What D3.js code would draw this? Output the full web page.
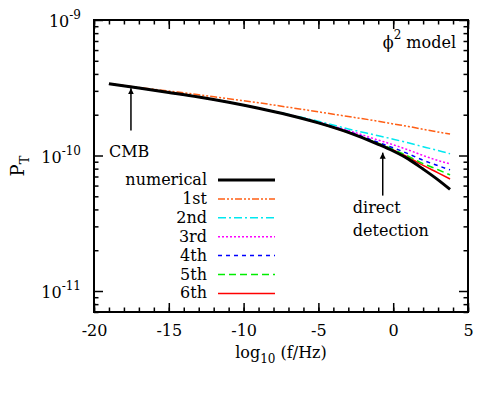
<!DOCTYPE html>
<html>
<head>
<meta charset="utf-8">
<script src="https://cdn.jsdelivr.net/npm/d3@7"></script>
<style>
	body { margin: 0; background: #fff; }
	svg { display: block; font-family: "DejaVu Serif", serif; }
	.axis path { display: none; }
	.axis line { stroke: #000; stroke-width: 1.5; }
	.axis text { font-size: 16px; fill: #000; font-family: "DejaVu Serif", serif; }
</style>
</head>
<body>
<svg width="498" height="393"></svg>
<script>
// log10(f/Hz)
const logF = [-19, -17, -15, -13, -11, -9, -7, -5, -3, -1, 0, 1, 2, 3, 3.8];

// P_T
const numerical = [3.39e-10, 3.15e-10, 2.92e-10, 2.70e-10, 2.47e-10, 2.23e-10, 1.99e-10, 1.74e-10, 1.48e-10, 1.21e-10, 1.08e-10, 9.44e-11, 7.94e-11, 6.61e-11, 5.62e-11];
const order1 = [3.39e-10, 3.18e-10, 2.99e-10, 2.81e-10, 2.62e-10, 2.45e-10, 2.27e-10, 2.10e-10, 1.94e-10, 1.79e-10, 1.71e-10, 1.64e-10, 1.56e-10, 1.49e-10, 1.44e-10];
const order2 = [3.39e-10, 3.15e-10, 2.92e-10, 2.70e-10, 2.47e-10, 2.24e-10, 2.01e-10, 1.79e-10, 1.57e-10, 1.40e-10, 1.32e-10, 1.24e-10, 1.16e-10, 1.09e-10, 1.03e-10];
const order3 = [3.39e-10, 3.15e-10, 2.92e-10, 2.70e-10, 2.47e-10, 2.23e-10, 2.00e-10, 1.76e-10, 1.53e-10, 1.30e-10, 1.20e-10, 1.10e-10, 1.00e-10, 9.18e-11, 8.67e-11];
const order4 = [3.39e-10, 3.15e-10, 2.92e-10, 2.70e-10, 2.47e-10, 2.23e-10, 1.99e-10, 1.75e-10, 1.51e-10, 1.25e-10, 1.14e-10, 1.03e-10, 9.23e-11, 8.41e-11, 7.83e-11];
const order5 = [3.39e-10, 3.15e-10, 2.92e-10, 2.70e-10, 2.47e-10, 2.23e-10, 1.99e-10, 1.75e-10, 1.49e-10, 1.23e-10, 1.11e-10, 9.89e-11, 8.71e-11, 7.85e-11, 7.19e-11];
const order6 = [3.39e-10, 3.15e-10, 2.92e-10, 2.70e-10, 2.47e-10, 2.23e-10, 1.99e-10, 1.74e-10, 1.48e-10, 1.22e-10, 1.10e-10, 9.73e-11, 8.45e-11, 7.45e-11, 6.71e-11];

const xTicks = [-20, -15, -10, -5, 0, 5];
const yTickExp = [-9, -10, -11];

const series = [
	{ name: "numerical", values: numerical, color: "#000000", width: 3, dash: null },
	{ name: "1st", values: order1, color: "#ff5f15", width: 1.5, dash: "7,2,2,2,2,2" },
	{ name: "2nd", values: order2, color: "#00e8f0", width: 1.5, dash: "8,3,2,3" },
	{ name: "3rd", values: order3, color: "#ff00ff", width: 1.5, dash: "2,2" },
	{ name: "4th", values: order4, color: "#0000ff", width: 1.5, dash: "4,4" },
	{ name: "5th", values: order5, color: "#00ee00", width: 1.5, dash: "7,4" },
	{ name: "6th", values: order6, color: "#ff0000", width: 1.5, dash: null }
];

const svg = d3.select("svg");
const margin = { top: 20, right: 30, bottom: 81, left: 94 };
const width = 498 - margin.left - margin.right;
const height = 393 - margin.top - margin.bottom;

const x = d3.scaleLinear([-20, 5], [0, width]);
const y = d3.scaleLog([7e-12, 1e-9], [height, 0]);

const g = svg.append("g")
	.attr("transform", `translate(${margin.left},${margin.top})`);

const xMinor = d3.range(-20, 5.01, 1);
const yMinor = [];
[-12, -11, -10].forEach(e => d3.range(2, 10).forEach(m => {
	const v = m * Math.pow(10, e);
	if (v >= 7e-12 && v <= 1e-9) yMinor.push(v);
}));

// minor ticks, all four sides
g.append("g").attr("class", "axis").attr("transform", `translate(0,${height})`)
	.call(d3.axisBottom(x).tickValues(xMinor).tickSize(-4.5).tickFormat(""));
g.append("g").attr("class", "axis")
	.call(d3.axisTop(x).tickValues(xMinor).tickSize(-4.5).tickFormat(""));
g.append("g").attr("class", "axis")
	.call(d3.axisLeft(y).tickValues(yMinor).tickSize(-4.5).tickFormat(""));
g.append("g").attr("class", "axis").attr("transform", `translate(${width},0)`)
	.call(d3.axisRight(y).tickValues(yMinor).tickSize(-4.5).tickFormat(""));

// major ticks
g.append("g").attr("class", "axis").attr("transform", `translate(0,${height})`)
	.call(d3.axisBottom(x).tickValues(xTicks).tickSize(-9).tickPadding(13).tickFormat(d => String(d)));
g.append("g").attr("class", "axis")
	.call(d3.axisTop(x).tickValues(xTicks).tickSize(-9).tickFormat(""));
g.append("g").attr("class", "axis")
	.call(d3.axisLeft(y).tickValues(yTickExp.map(e => Math.pow(10, e))).tickSize(-9).tickFormat(""));
g.append("g").attr("class", "axis").attr("transform", `translate(${width},0)`)
	.call(d3.axisRight(y).tickValues(yTickExp.map(e => Math.pow(10, e))).tickSize(-9).tickFormat(""));

yTickExp.forEach(e => {
	const t = g.append("text")
		.attr("x", -13)
		.attr("y", y(Math.pow(10, e)) + 7)
		.attr("text-anchor", "end")
		.attr("font-size", 16);
	t.append("tspan").text("10");
	t.append("tspan").attr("dy", -8).attr("font-size", 12).text(e);
});

// frame
g.append("rect")
	.attr("width", width)
	.attr("height", height)
	.attr("fill", "none")
	.attr("stroke", "#000")
	.attr("stroke-width", 2);

// curves
const line = d3.line()
	.curve(d3.curveMonotoneX)
	.x((d, i) => x(logF[i]))
	.y(d => y(d));

series.slice().reverse().forEach(s => {
	g.append("path")
		.attr("fill", "none")
		.attr("stroke", s.color)
		.attr("stroke-width", s.width)
		.attr("stroke-dasharray", s.dash)
		.attr("d", line(s.values));
});

// legend
const legend = g.append("g").attr("transform", "translate(0,160)");
series.forEach((s, i) => {
	const row = legend.append("g").attr("transform", `translate(0,${i * 18.9})`);
	row.append("text")
		.attr("x", 113)
		.attr("y", 5)
		.attr("text-anchor", "end")
		.attr("font-size", 16)
		.text(s.name);
	row.append("line")
		.attr("x1", 124).attr("x2", 181)
		.attr("stroke", s.color)
		.attr("stroke-width", s.width)
		.attr("stroke-dasharray", s.dash);
});

// arrows
const defs = svg.append("defs");
defs.append("marker")
	.attr("id", "head")
	.attr("viewBox", "0 0 10 10")
	.attr("refX", 10).attr("refY", 5)
	.attr("markerWidth", 6).attr("markerHeight", 8)
	.attr("markerUnits", "userSpaceOnUse")
	.attr("orient", "auto")
	.append("path").attr("d", "M0,0L10,5L0,10Z").attr("fill", "#000");

const arrow = (fx, p0, p1) => g.append("line")
	.attr("x1", x(fx)).attr("x2", x(fx))
	.attr("y1", y(p0)).attr("y2", y(p1))
	.attr("stroke", "#000").attr("stroke-width", 1.5)
	.attr("marker-end", "url(#head)");

arrow(-17.53, 1.53e-10, 3.13e-10);
arrow(-0.7, 5.06e-11, 1.05e-10);

g.append("text").attr("x", x(-19)).attr("y", y(1e-10) + 1).attr("font-size", 16).text("CMB");
g.append("text").attr("x", x(-2.7)).attr("y", 193).attr("font-size", 16).text("direct");
g.append("text").attr("x", x(-2.7)).attr("y", 216).attr("font-size", 16).text("detection");

const model = g.append("text")
	.attr("x", width - 12)
	.attr("y", 28)
	.attr("text-anchor", "end")
	.attr("font-size", 16);
model.append("tspan").text("\u03d5");
model.append("tspan").attr("dy", -9).attr("font-size", 12).text("2");
model.append("tspan").attr("dy", 9).text(" model");

// axis titles
const xl = svg.append("text")
	.attr("x", margin.left + x(-7.5))
	.attr("y", 358)
	.attr("text-anchor", "middle")
	.attr("font-size", 16);
xl.append("tspan").text("log");
xl.append("tspan").attr("dy", 5).attr("font-size", 12).text("10");
xl.append("tspan").attr("dy", -5).text(" (f/Hz)");

const yl = svg.append("text")
	.attr("transform", "translate(24,166) rotate(-90)")
	.attr("text-anchor", "middle")
	.attr("font-size", 18);
yl.append("tspan").text("P");
yl.append("tspan").attr("dy", 5).attr("font-size", 13).text("T");
</script>
</body>
</html>
